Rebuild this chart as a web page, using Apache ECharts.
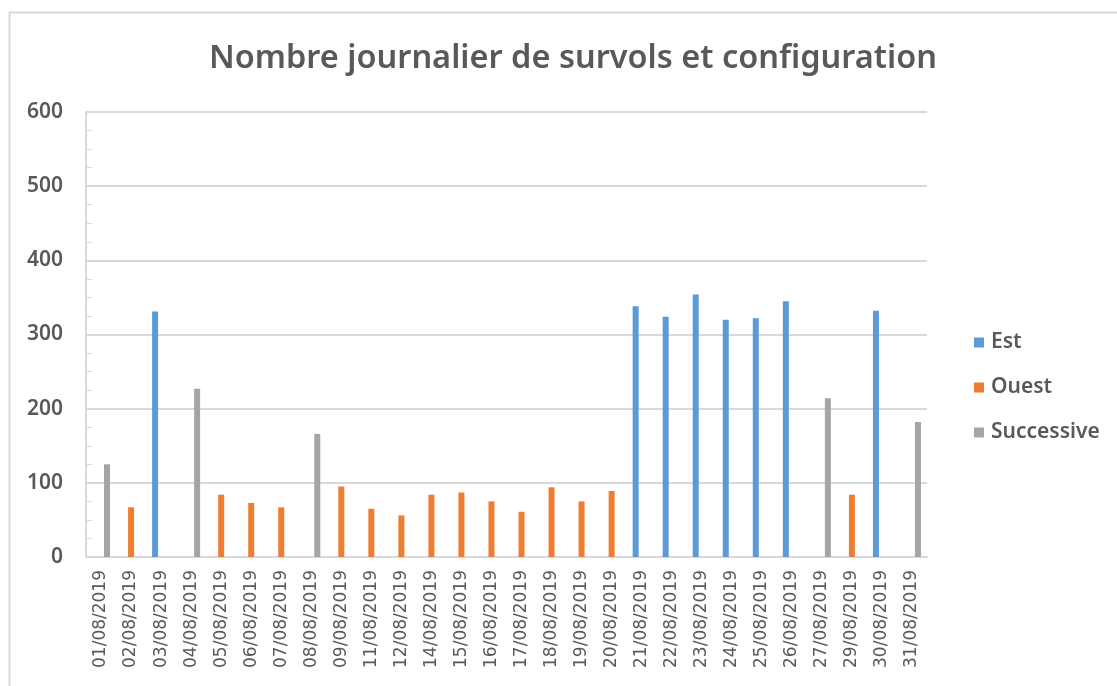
<!DOCTYPE html>
<html>
<head>
<meta charset="utf-8">
<script src="https://cdn.jsdelivr.net/npm/echarts@6/dist/echarts.min.js"></script>
<style>
  html, body { margin: 0; padding: 0; background: #fff; }
  #chart { width: 1117px; height: 686px; }
</style>
</head>
<body>
<div id="chart"></div>
<script>
const dates = [
  '01/08/2019', '02/08/2019', '03/08/2019', '04/08/2019', '05/08/2019', '06/08/2019', '07/08/2019',
  '08/08/2019', '09/08/2019', '11/08/2019', '12/08/2019', '14/08/2019', '15/08/2019', '16/08/2019',
  '17/08/2019', '18/08/2019', '19/08/2019', '20/08/2019', '21/08/2019', '22/08/2019', '23/08/2019',
  '24/08/2019', '25/08/2019', '26/08/2019', '27/08/2019', '29/08/2019', '30/08/2019', '31/08/2019',
]

// one value per day, the other configurations are empty
const est = [
  null, null, 331, null, null, null, null,
  null, null, null, null, null, null, null,
  null, null, null, null, 338, 324, 354,
  320, 322, 345, null, null, 332, null,
]
const ouest = [
  null, 67, null, null, 84, 73, 67,
  null, 95, 65, 56, 84, 87, 75,
  61, 94, 75, 89, null, null, null,
  null, null, null, null, 84, null, null,
]
const successive = [
  125, null, null, 227, null, null, null,
  166, null, null, null, null, null, null,
  null, null, null, null, null, null, null,
  null, null, null, 214, null, null, 182,
]

const yTicks = [0, 100, 200, 300, 400, 500, 600]

const textColor = '#595959'
const lineColor = '#d9d9d9'

const makeSeries = (name, data, color) => ({
  name: name,
  type: 'bar',
  data: data,
  barWidth: 6,
  barGap: '0%',
  itemStyle: { color: color },
})

const chart = echarts.init(document.getElementById('chart'))

chart.setOption({
  animation: false,
  title: {
    text: 'Nombre journalier de survols et configuration',
    left: 204,
    top: 37,
    textStyle: {
      fontFamily: 'Noto Sans',
      fontSize: 32.5,
      fontWeight: 600,
      color: textColor,
    },
  },
  graphic: [
    {
      type: 'rect',
      shape: { x: 9.5, y: 12.5, width: 1200, height: 800 },
      style: { fill: 'none', stroke: lineColor, lineWidth: 2 },
      silent: true,
    },
  ],
  legend: {
    orient: 'vertical',
    left: 969,
    top: 327,
    itemWidth: 10,
    itemHeight: 10,
    itemGap: 24,
    icon: 'rect',
    textStyle: {
      fontFamily: 'Noto Sans',
      fontSize: 21,
      fontWeight: 600,
      color: textColor,
      padding: [0, 0, 0, 2],
    },
    data: ['Est', 'Ouest', 'Successive'],
  },
  grid: {
    left: 86,
    right: 190,
    top: 112,
    bottom: 129,
  },
  xAxis: {
    type: 'category',
    data: dates,
    axisLine: { lineStyle: { color: lineColor, width: 2 } },
    axisTick: { show: false },
    axisLabel: {
      rotate: 90,
      interval: 0,
      margin: 13,
      fontFamily: 'DejaVu Sans',
      fontSize: 17,
      color: textColor,
    },
  },
  yAxis: {
    type: 'value',
    min: yTicks[0],
    max: yTicks[yTicks.length - 1],
    interval: 100,
    axisLine: { show: true, lineStyle: { color: lineColor, width: 2 } },
    axisTick: { show: false, inside: true },
    minorTick: { show: true, splitNumber: 4, length: 6, lineStyle: { color: lineColor } },
    splitLine: { lineStyle: { color: lineColor, width: 2 } },
    axisLabel: {
      margin: 23,
      fontFamily: 'Noto Sans',
      fontSize: 21,
      fontWeight: 600,
      color: textColor,
    },
  },
  series: [
    makeSeries('Est', est, '#5b9bd5'),
    makeSeries('Ouest', ouest, '#ed7d31'),
    makeSeries('Successive', successive, '#a5a5a5'),
  ],
})
</script>
</body>
</html>
